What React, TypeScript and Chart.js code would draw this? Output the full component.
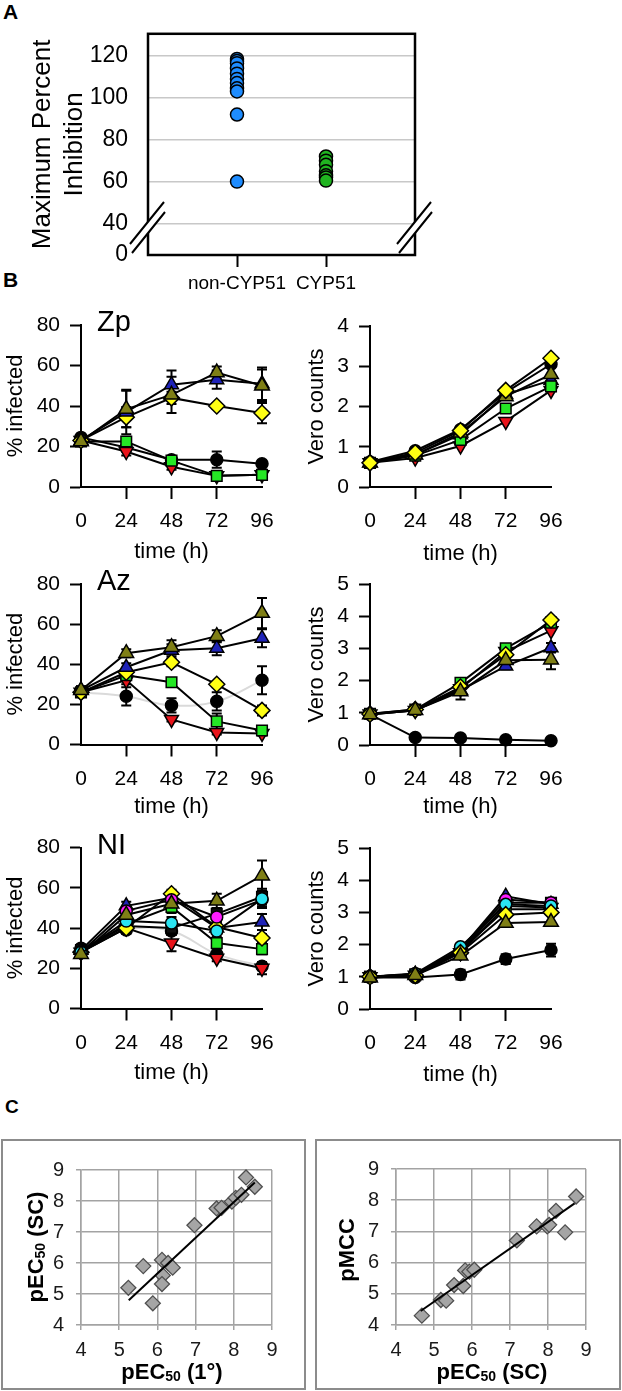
import React, { useEffect, useRef } from 'react';
import { Chart, registerables } from 'chart.js';

Chart.register(...registerables);

const FONT = '"Liberation Sans", Arial, Helvetica, sans-serif';
Chart.defaults.font.family = FONT;
Chart.defaults.color = '#000';

// ---------------- Panel A ----------------
const A_CATEGORIES = ['non-CYP51', 'CYP51'];
const A_NON_CYP51 = [118.5, 117.5, 116.5, 114, 111.5, 109, 107, 104.5, 103, 92, 60];
const A_CYP51 = [72, 70, 68, 65, 63, 62, 60.5];
const A_Y_TICKS = [40, 60, 80, 100, 120];
const A_Y_BREAK = 25; // axis origin, labelled "0" below the break

// ---------------- Panel B ----------------
const HOURS = [0, 24, 48, 72, 96];
const HOURS_MARKED = [24, 48, 72];

// Zp - % infected
const ZP_INF_OLIVE = [22.5, 38.5, 45.5, 56.5, 50];
const ZP_INF_OLIVE_ERR = [1.5, 9, 9, 3, 8];
const ZP_INF_BLUE = [23, 37, 50.5, 53, 51];
const ZP_INF_BLUE_ERR = [1, 11, 7, 4.5, 8];
const ZP_INF_YELLOW = [23, 34.5, 44, 40, 36.5];
const ZP_INF_YELLOW_ERR = [1, 5, 3, 1.5, 5];
const ZP_INF_GREEN = [22.5, 22.5, 13, 5.5, 6];
const ZP_INF_GREEN_ERR = [1, 2, 1.5, 1, 1.5];
const ZP_INF_RED = [23, 17.5, 10, 5.5, 6];
const ZP_INF_RED_ERR = [1, 2, 1.5, 1, 1];
const ZP_INF_BLACK = [24.5, 19.5, 13.5, 13.5, 11.5];
const ZP_INF_BLACK_ERR = [1, 2, 1.5, 4, 1.5];

// Zp - Vero counts
const ZP_VERO_OLIVE = [0.6, 0.8, 1.35, 2.25, 2.8];
const ZP_VERO_YELLOW = [0.6, 0.85, 1.4, 2.4, 3.2];
const ZP_VERO_GREEN = [0.6, 0.78, 1.17, 1.95, 2.5];
const ZP_VERO_RED = [0.6, 0.72, 1.02, 1.63, 2.4];
const ZP_VERO_BLUE = [0.6, 0.8, 1.3, 2.3, 2.65];
const ZP_VERO_BLACK = [0.62, 0.9, 1.43, 2.35, 3.05];

// Az - % infected
const AZ_INF_OLIVE = [27, 45.5, 48.5, 54, 65.5];
const AZ_INF_OLIVE_ERR = [2, 2, 3.5, 3, 7.5];
const AZ_INF_BLUE = [27, 38.5, 47, 48, 53];
const AZ_INF_BLUE_ERR = [2, 2, 3, 3.5, 4.5];
const AZ_INF_YELLOW = [26, 36, 41, 30, 17];
const AZ_INF_YELLOW_ERR = [2, 2, 2, 1.5, 2.5];
const AZ_INF_GREEN = [26, 34.5, 31, 11.5, 7];
const AZ_INF_GREEN_ERR = [2, 2, 2, 4, 2];
const AZ_INF_RED = [26, 32, 12.5, 6, 5.5];
const AZ_INF_RED_ERR = [2, 2, 1, 1, 1];
const AZ_INF_BLACK = [26, 24, 19.5, 21.5, 32];
const AZ_INF_BLACK_ERR = [2, 4.5, 3.5, 4.5, 7];

// Az - Vero counts
const AZ_VERO_OLIVE = [0.95, 1.08, 1.66, 2.63, 2.65];
const AZ_VERO_OLIVE_ERR = [0, 0, 0.25, 0.1, 0.3];
const AZ_VERO_YELLOW = [0.96, 1.1, 1.8, 2.8, 3.88];
const AZ_VERO_GREEN = [0.97, 1.1, 1.93, 3.0, 3.8];
const AZ_VERO_RED = [0.96, 1.07, 1.75, 2.9, 3.55];
const AZ_VERO_BLUE = [0.95, 1.08, 1.7, 2.45, 3.02];
const AZ_VERO_BLUE_ERR = [0, 0, 0.1, 0.1, 0.15];
const AZ_VERO_BLACK = [0.95, 0.23, 0.22, 0.16, 0.13];

// NI - % infected
const NI_INF_OLIVE = [27, 46.5, 52, 53.5, 66];
const NI_INF_OLIVE_ERR = [1.5, 3, 3, 3.5, 7.5];
const NI_INF_CYAN = [28, 43.5, 42.5, 38.5, 54.5];
const NI_INF_CYAN_ERR = [1, 3, 3, 3, 4];
const NI_INF_MAGENTA = [28, 48.5, 54, 45.5, 54];
const NI_INF_MAGENTA_ERR = [1, 2, 3, 3, 4];
const NI_INF_YELLOW = [28, 40, 57, 40.5, 35];
const NI_INF_YELLOW_ERR = [1, 2, 2, 3, 2];
const NI_INF_BLUE = [29, 51, 55, 40, 43];
const NI_INF_BLUE_ERR = [1, 2, 3, 3, 4];
const NI_INF_GREEN = [28, 42, 50.5, 32.5, 29.5];
const NI_INF_GREEN_ERR = [1, 2, 3, 2, 2.5];
const NI_INF_RED = [28, 40, 32.5, 25, 20];
const NI_INF_RED_ERR = [1, 2, 4, 1.5, 3];
const NI_INF_BLACKSQ = [29, 41, 40, 47, 55.5];
const NI_INF_BLACKSQ_ERR = [1, 2, 2, 3, 4];
const NI_INF_BLACK = [30, 39, 38.5, 27, 21];
const NI_INF_BLACK_ERR = [1, 2, 2, 2, 2];

// NI - Vero counts
const NI_VERO_OLIVE = [0.97, 1.05, 1.65, 2.67, 2.7];
const NI_VERO_YELLOW = [1.0, 1.05, 1.75, 2.93, 3.0];
const NI_VERO_CYAN = [1.0, 1.1, 1.93, 3.25, 3.2];
const NI_VERO_MAGENTA = [1.0, 1.08, 1.85, 3.4, 3.3];
const NI_VERO_BLUE = [1.0, 1.08, 1.85, 3.5, 3.25];
const NI_VERO_GREEN = [1.0, 1.05, 1.8, 3.1, 3.1];
const NI_VERO_RED = [1.0, 1.05, 1.75, 3.2, 3.15];
const NI_VERO_BLACKSQ = [1.0, 1.08, 1.8, 3.3, 3.3];
const NI_VERO_BLACK = [0.98, 0.98, 1.07, 1.55, 1.83];
const NI_VERO_BLACK_ERR = [0.05, 0.05, 0.15, 0.15, 0.2];

// ---------------- Panel C ----------------
const C1_X = [5.24, 5.63, 5.88, 6.12, 6.14, 6.12, 6.28, 6.4, 6.97, 7.55, 7.68, 7.95, 8.05, 8.2, 8.32, 8.55];
const C1_Y = [5.2, 5.9, 4.7, 6.1, 5.6, 5.32, 6.0, 5.85, 7.22, 7.76, 7.78, 7.98, 8.1, 8.2, 8.76, 8.46];
const C1_FIT_X = [5.25, 8.55];
const C1_FIT_Y = [4.8, 8.6];
const C2_X = [4.68, 5.18, 5.32, 5.53, 5.77, 5.82, 5.93, 6.06, 7.18, 7.7, 7.98, 8.03, 8.21, 8.45, 8.74];
const C2_Y = [4.3, 4.8, 4.78, 5.28, 5.25, 5.75, 5.71, 5.77, 6.71, 7.16, 7.16, 7.21, 7.66, 6.97, 8.12];
const C2_FIT_X = [4.65, 8.7];
const C2_FIT_Y = [4.45, 7.9];
const C_TICKS_MIN = 4;
const C_TICKS_MAX = 9;

// ---------------- styles ----------------
const MARKERS: Record<string, any> = {
  black: { style: 'circle', r: 6, color: '#000000', rot: 0 },
  blackSq: { style: 'rect', r: 7.5, color: '#101010', rot: 0 },
  red: { style: 'triangle', r: 8, color: '#e8141b', rot: 180 },
  green: { style: 'rect', r: 7.5, color: '#25e825', rot: 0 },
  yellow: { style: 'rectRot', r: 8, color: '#ffff14', rot: 0 },
  blue: { style: 'triangle', r: 8, color: '#1f23b8', rot: 0 },
  olive: { style: 'triangle', r: 8.5, color: '#7f7f16', rot: 0 },
  magenta: { style: 'circle', r: 6, color: '#ff1cff', rot: 0 },
  cyan: { style: 'circle', r: 6, color: '#2ae4f2', rot: 0 },
};

function ser(marker: string, values: number[], errors?: number[], lineColor = '#000', tension = 0) {
  const m = MARKERS[marker];
  return {
    data: HOURS.map((h, i) => ({ x: h, y: values[i] })),
    errors,
    borderColor: lineColor,
    borderWidth: 2,
    tension,
    pointStyle: m.style,
    pointRadius: m.r,
    pointHoverRadius: m.r,
    pointRotation: m.rot,
    pointBackgroundColor: m.color,
    pointBorderColor: '#000',
    pointBorderWidth: 1.5,
    clip: false,
    fill: false,
  };
}

// ---------------- plugins ----------------
const errorBars = {
  id: 'errorBars',
  beforeDatasetsDraw(chart: any) {
    const ctx = chart.ctx;
    const ys = chart.scales.y;
    chart.data.datasets.forEach((ds: any, i: number) => {
      if (!ds.errors) return;
      const meta = chart.getDatasetMeta(i);
      meta.data.forEach((el: any, j: number) => {
        const e = ds.errors[j];
        if (!e) return;
        const v = ds.data[j].y;
        const x = el.x;
        const y1 = ys.getPixelForValue(v + e);
        const y2 = ys.getPixelForValue(Math.max(v - e, 0));
        ctx.save();
        ctx.strokeStyle = '#000';
        ctx.lineWidth = 2;
        ctx.beginPath();
        ctx.moveTo(x, y1); ctx.lineTo(x, y2);
        ctx.moveTo(x - 5, y1); ctx.lineTo(x + 5, y1);
        ctx.moveTo(x - 5, y2); ctx.lineTo(x + 5, y2);
        ctx.stroke();
        ctx.restore();
      });
    });
  },
};

function drawRich(ctx: CanvasRenderingContext2D, item: any) {
  ctx.save();
  ctx.translate(item.x, item.y);
  if (item.rotate) ctx.rotate(item.rotate);
  ctx.fillStyle = item.color || '#000';
  ctx.textBaseline = 'middle';
  ctx.textAlign = 'left';
  const fontOf = (s: any) => `${s.bold ? 'bold ' : ''}${s.size}px ${FONT}`;
  let total = 0;
  const widths = item.segs.map((s: any) => {
    ctx.font = fontOf(s);
    const w = ctx.measureText(s.t).width;
    total += w;
    return w;
  });
  let x = item.align === 'left' ? 0 : -total / 2;
  item.segs.forEach((s: any, i: number) => {
    ctx.font = fontOf(s);
    ctx.fillText(s.t, x, s.dy || 0);
    x += widths[i];
  });
  ctx.restore();
}

const decor = {
  id: 'decor',
  afterDraw(chart: any, _args: any, opts: any) {
    const ctx = chart.ctx;
    if (opts.frame) {
      const f = opts.frame;
      ctx.save();
      ctx.strokeStyle = f.color;
      ctx.lineWidth = f.width;
      ctx.strokeRect(f.x, f.y, f.w, f.h);
      ctx.restore();
    }
    if (opts.items) opts.items.forEach((it: any) => drawRich(ctx, it));
  },
};

const aFrame = {
  id: 'aFrame',
  afterDraw(chart: any) {
    const { ctx, chartArea } = chart;
    const { left, top, right, bottom } = chartArea;
    ctx.save();
    ctx.strokeStyle = '#000';
    ctx.lineWidth = 2.5;
    ctx.strokeRect(left, top, right - left, bottom - top);
    for (const bx of [left, right]) {
      ctx.fillStyle = '#fff';
      ctx.beginPath();
      ctx.moveTo(bx - 18, bottom - 11);
      ctx.lineTo(bx + 16, bottom - 53);
      ctx.lineTo(bx + 17, bottom - 43);
      ctx.lineTo(bx - 16, bottom - 2);
      ctx.closePath();
      ctx.fill();
      ctx.lineWidth = 2;
      ctx.beginPath();
      ctx.moveTo(bx - 18, bottom - 11); ctx.lineTo(bx + 16, bottom - 53);
      ctx.moveTo(bx - 16, bottom - 2); ctx.lineTo(bx + 17, bottom - 43);
      ctx.stroke();
    }
    ctx.restore();
  },
};

// ---------------- configs ----------------
function configA() {
  return {
    type: 'scatter',
    data: {
      datasets: [
        {
          data: A_NON_CYP51.map((v) => ({ x: 1, y: v })),
          pointStyle: 'circle', pointRadius: 6.5, pointHoverRadius: 6.5,
          backgroundColor: '#1e8cff', borderColor: '#000', borderWidth: 1.5, clip: false,
        },
        {
          data: A_CYP51.map((v) => ({ x: 2, y: v })),
          pointStyle: 'circle', pointRadius: 6.5, pointHoverRadius: 6.5,
          backgroundColor: '#20b420', borderColor: '#000', borderWidth: 1.5, clip: false,
        },
      ],
    },
    options: {
      animation: false, responsive: false, devicePixelRatio: 1,
      layout: { padding: { top: 24, right: 25, left: 0, bottom: 0 } },
      plugins: { legend: { display: false }, tooltip: { enabled: false } },
      scales: {
        x: {
          type: 'linear', min: 0, max: 3,
          afterBuildTicks: (s: any) => { s.ticks = A_CATEGORIES.map((_, i) => ({ value: i + 1 })); },
          ticks: { callback: (v: any) => A_CATEGORIES[v - 1], font: { size: 19 }, padding: 5, maxRotation: 0, autoSkip: false },
          grid: { drawOnChartArea: false, drawTicks: true, tickLength: 12, tickWidth: 2, tickColor: '#000' },
          border: { display: false },
          afterFit: (s: any) => { s.height = 45; },
        },
        y: {
          type: 'linear', min: A_Y_BREAK, max: 130.5,
          afterBuildTicks: (s: any) => { s.ticks = [A_Y_BREAK, ...A_Y_TICKS].map((v) => ({ value: v })); },
          ticks: { callback: (v: any) => (v === A_Y_BREAK ? '0' : String(v)), font: { size: 23 }, padding: 20 },
          grid: {
            drawTicks: false, lineWidth: 1.5,
            color: (c: any) => (c.tick && c.tick.value === A_Y_BREAK ? 'rgba(0,0,0,0)' : '#c8c8c8'),
          },
          border: { display: false },
          title: { display: true, text: ['Maximum Percent', 'Inhibition'], font: { size: 26, lineHeight: 1.22 }, padding: { top: 27, bottom: 0 } },
          afterFit: (s: any) => { s.width = 148; },
        },
      },
    },
    plugins: [aFrame],
  };
}

function configTime(o: any) {
  const canvasTop = o.canvasTop;
  return {
    type: 'line',
    data: { datasets: o.series },
    options: {
      animation: false, responsive: false, devicePixelRatio: 1,
      layout: { padding: { top: o.chartTop - canvasTop, right: o.padRight, left: 0, bottom: 0 } },
      plugins: {
        legend: { display: false }, tooltip: { enabled: false },
        decor: {
          items: o.name
            ? [{ x: o.yWidth + 16, y: o.chartTop - canvasTop - 2, align: 'left', segs: [{ t: o.name, size: 29 }] }]
            : [],
        },
      },
      scales: {
        x: {
          type: 'linear', min: 0, max: 96,
          ticks: { stepSize: 24, font: { size: 21 }, padding: o.xLabelPad, maxRotation: 0, autoSkip: false },
          grid: {
            drawOnChartArea: false, drawTicks: true, tickLength: 12, tickWidth: 2,
            tickColor: (c: any) => (c.tick && HOURS_MARKED.includes(c.tick.value) ? '#000' : 'rgba(0,0,0,0)'),
          },
          border: { display: true, color: '#000', width: 2 },
          title: { display: true, text: 'time (h)', font: { size: 22 }, padding: 0 },
          afterFit: (s: any) => { s.height = o.height - (o.chartBottom - canvasTop); },
        },
        y: {
          type: 'linear', min: 0, max: o.yMax,
          ticks: { stepSize: o.yStep, font: { size: 21 }, padding: 10 },
          grid: { drawOnChartArea: false, drawTicks: true, tickLength: 11, tickWidth: 2, tickColor: '#000' },
          border: { display: true, color: '#000', width: 2 },
          title: { display: true, text: o.yTitle, font: { size: 22 }, padding: { top: o.yTitlePad, bottom: 0 } },
          afterFit: (s: any) => { s.width = o.yWidth; },
        },
      },
    },
    plugins: [errorBars, decor],
  };
}

function configC(o: any) {
  const axis = (labelPad: number, fit: (s: any) => void) => ({
    type: 'linear', min: C_TICKS_MIN, max: C_TICKS_MAX,
    ticks: { stepSize: 1, font: { size: 20 }, color: '#1a1a1a', padding: labelPad },
    grid: { color: '#a3a3a3', lineWidth: 1.5, drawTicks: true, tickLength: 5, tickColor: '#a3a3a3', tickWidth: 1.5 },
    border: { display: true, color: '#a3a3a3', width: 1.5 },
    afterFit: fit,
  });
  return {
    type: 'scatter',
    data: {
      datasets: [
        {
          data: o.fitX.map((x: number, i: number) => ({ x, y: o.fitY[i] })),
          showLine: true, borderColor: '#000', borderWidth: 2, pointRadius: 0, pointHoverRadius: 0, clip: false,
        },
        {
          data: o.xs.map((x: number, i: number) => ({ x, y: o.ys[i] })),
          pointStyle: 'rectRot', pointRadius: 7.5, pointHoverRadius: 7.5,
          backgroundColor: '#a5a5a5', borderColor: '#4f4f4f', borderWidth: 1.3, clip: false,
        },
      ],
    },
    options: {
      animation: false, responsive: false, devicePixelRatio: 1,
      layout: { padding: { top: o.padTop, right: o.padRight, left: 0, bottom: 0 } },
      plugins: {
        legend: { display: false }, tooltip: { enabled: false },
        decor: { frame: o.frame, items: o.items },
      },
      scales: {
        x: axis(8, (s: any) => { s.height = o.xHeight; }),
        y: axis(12, (s: any) => { s.width = o.yWidth; }),
      },
    },
    plugins: [decor],
  };
}

function ChartBox({ left, top, width, height, make }: any) {
  const ref = useRef<HTMLCanvasElement>(null);
  useEffect(() => {
    const chart = new Chart(ref.current as HTMLCanvasElement, make());
    return () => chart.destroy();
  }, []);
  return (
    <canvas
      ref={ref}
      width={width}
      height={height}
      style={{ position: 'absolute', left, top, width, height }}
    />
  );
}

function timeBox(col: 'L' | 'R', row: { chartTop: number; chartBottom: number; titleY: number }, rest: any) {
  const canvasLeft = col === 'L' ? 0 : 300;
  const width = col === 'L' ? 290 : 310;
  const canvasTop = Math.round(row.chartTop - 32);
  const height = Math.round(row.titleY + 13.2 - canvasTop);
  const o = {
    ...rest,
    canvasTop,
    height,
    chartTop: row.chartTop,
    chartBottom: row.chartBottom,
    yWidth: col === 'L' ? 81 : 70,
    padRight: col === 'L' ? 28 : 59,
    yTitlePad: col === 'L' ? 3 : 4,
    xLabelPad: 10,
  };
  return { left: canvasLeft, top: canvasTop, width, height, make: () => configTime(o) };
}

const labelStyle: any = {
  position: 'absolute', fontFamily: FONT, fontWeight: 'bold', lineHeight: '20px', color: '#000', margin: 0,
};

export default function App() {
  const sub = (main: number) => [
    { t: 'pEC', size: main, bold: true },
    { t: '50', size: 14, bold: true, dy: 4 },
  ];
  const boxes = [
    timeBox('L', { chartTop: 325, chartBottom: 487, titleY: 552 }, {
      name: 'Zp', yMax: 80, yStep: 20, yTitle: '% infected',
      series: [
        ser('olive', ZP_INF_OLIVE, ZP_INF_OLIVE_ERR),
        ser('blue', ZP_INF_BLUE, ZP_INF_BLUE_ERR),
        ser('yellow', ZP_INF_YELLOW, ZP_INF_YELLOW_ERR),
        ser('green', ZP_INF_GREEN, ZP_INF_GREEN_ERR),
        ser('red', ZP_INF_RED, ZP_INF_RED_ERR),
        ser('black', ZP_INF_BLACK, ZP_INF_BLACK_ERR),
      ],
    }),
    timeBox('R', { chartTop: 326, chartBottom: 487, titleY: 554 }, {
      yMax: 4, yStep: 1, yTitle: 'Vero counts',
      series: [
        ser('yellow', ZP_VERO_YELLOW),
        ser('olive', ZP_VERO_OLIVE),
        ser('green', ZP_VERO_GREEN),
        ser('red', ZP_VERO_RED),
        ser('blue', ZP_VERO_BLUE),
        ser('black', ZP_VERO_BLACK),
      ],
    }),
    timeBox('L', { chartTop: 584, chartBottom: 744.5, titleY: 807 }, {
      name: 'Az', yMax: 80, yStep: 20, yTitle: '% infected',
      series: [
        ser('olive', AZ_INF_OLIVE, AZ_INF_OLIVE_ERR),
        ser('blue', AZ_INF_BLUE, AZ_INF_BLUE_ERR),
        ser('yellow', AZ_INF_YELLOW, AZ_INF_YELLOW_ERR),
        ser('green', AZ_INF_GREEN, AZ_INF_GREEN_ERR),
        ser('red', AZ_INF_RED, AZ_INF_RED_ERR),
        ser('black', AZ_INF_BLACK, AZ_INF_BLACK_ERR, '#dadada', 0.4),
      ],
    }),
    timeBox('R', { chartTop: 584, chartBottom: 745, titleY: 807 }, {
      yMax: 5, yStep: 1, yTitle: 'Vero counts',
      series: [
        ser('olive', AZ_VERO_OLIVE, AZ_VERO_OLIVE_ERR),
        ser('yellow', AZ_VERO_YELLOW),
        ser('green', AZ_VERO_GREEN),
        ser('red', AZ_VERO_RED),
        ser('blue', AZ_VERO_BLUE, AZ_VERO_BLUE_ERR),
        ser('black', AZ_VERO_BLACK),
      ],
    }),
    timeBox('L', { chartTop: 847.5, chartBottom: 1008.5, titleY: 1073 }, {
      name: 'NI', yMax: 80, yStep: 20, yTitle: '% infected',
      series: [
        ser('olive', NI_INF_OLIVE, NI_INF_OLIVE_ERR),
        ser('cyan', NI_INF_CYAN, NI_INF_CYAN_ERR),
        ser('magenta', NI_INF_MAGENTA, NI_INF_MAGENTA_ERR),
        ser('yellow', NI_INF_YELLOW, NI_INF_YELLOW_ERR),
        ser('blue', NI_INF_BLUE, NI_INF_BLUE_ERR),
        ser('green', NI_INF_GREEN, NI_INF_GREEN_ERR),
        ser('red', NI_INF_RED, NI_INF_RED_ERR),
        ser('blackSq', NI_INF_BLACKSQ, NI_INF_BLACKSQ_ERR),
        ser('black', NI_INF_BLACK, NI_INF_BLACK_ERR, '#dadada', 0.4),
      ],
    }),
    timeBox('R', { chartTop: 848, chartBottom: 1009, titleY: 1075 }, {
      yMax: 5, yStep: 1, yTitle: 'Vero counts',
      series: [
        ser('olive', NI_VERO_OLIVE),
        ser('yellow', NI_VERO_YELLOW),
        ser('cyan', NI_VERO_CYAN),
        ser('magenta', NI_VERO_MAGENTA),
        ser('blue', NI_VERO_BLUE),
        ser('green', NI_VERO_GREEN),
        ser('red', NI_VERO_RED),
        ser('blackSq', NI_VERO_BLACKSQ),
        ser('black', NI_VERO_BLACK, NI_VERO_BLACK_ERR),
      ],
    }),
  ];

  const cTop = 1136;
  const c1 = {
    left: 0, top: cTop, width: 308, height: 255,
    make: () => configC({
      xs: C1_X, ys: C1_Y, fitX: C1_FIT_X, fitY: C1_FIT_Y,
      padTop: 34, padRight: 36, xHeight: 66, yWidth: 81,
      frame: { x: 2, y: 4, w: 303, h: 249, color: '#8c8c8c', width: 2 },
      items: [
        { x: 37, y: 111, rotate: -Math.PI / 2, segs: [...sub(22), { t: ' (SC)', size: 22, bold: true }] },
        { x: 172, y: 237, segs: [...sub(22), { t: ' (1°)', size: 22, bold: true }] },
      ],
    }),
  };
  const c2 = {
    left: 310, top: cTop, width: 312, height: 255,
    make: () => configC({
      xs: C2_X, ys: C2_Y, fitX: C2_FIT_X, fitY: C2_FIT_Y,
      padTop: 33, padRight: 36, xHeight: 66, yWidth: 86,
      frame: { x: 6, y: 4, w: 304, h: 249, color: '#8c8c8c', width: 2 },
      items: [
        { x: 38, y: 114, rotate: -Math.PI / 2, segs: [{ t: 'pMCC', size: 22, bold: true }] },
        { x: 182, y: 237, segs: [...sub(22), { t: ' (SC)', size: 22, bold: true }] },
      ],
    }),
  };

  return (
    <div style={{ position: 'absolute', left: 0, top: 0, width: 622, height: 1391, background: '#fff', overflow: 'hidden' }}>
      <div style={{ ...labelStyle, left: 3, top: 2, fontSize: 21 }}>A</div>
      <div style={{ ...labelStyle, left: 3, top: 270, fontSize: 21 }}>B</div>
      <div style={{ ...labelStyle, left: 5, top: 1097, fontSize: 19 }}>C</div>
      <ChartBox left={0} top={0} width={440} height={300} make={configA} />
      {boxes.map((b, i) => (
        <ChartBox key={i} {...b} />
      ))}
      <ChartBox {...c1} />
      <ChartBox {...c2} />
    </div>
  );
}
